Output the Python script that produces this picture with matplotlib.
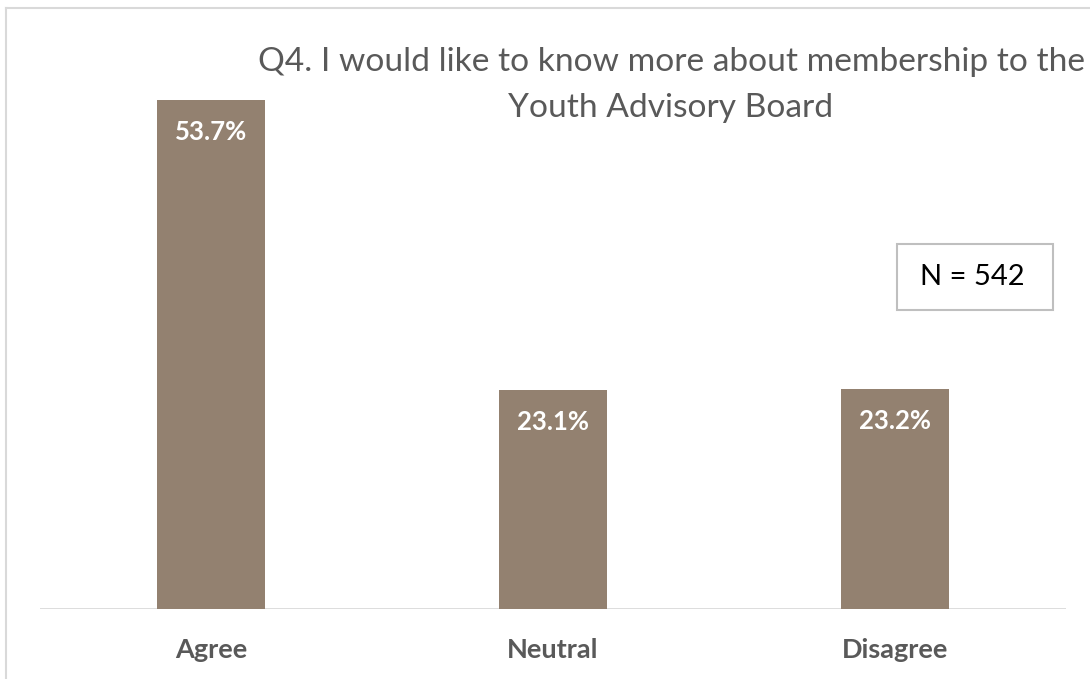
import matplotlib.pyplot as plt
from matplotlib.lines import Line2D
from matplotlib.patches import Rectangle

categories = ["Agree", "Neutral", "Disagree"]
percentages = [53.7, 23.1, 23.2]
title_lines = ["Q4. I would like to know more about membership to the", "Youth Advisory Board"]
sample_note = "N = 542"

W, H = 1090, 679
fig = plt.figure(figsize=(W / 100, H / 100), dpi=100)
fig.patch.set_facecolor("white")

def fx(px):
    return px / W

def fy(py):
    return 1 - py / H

# chart frame (left and top edges visible)
fig.add_artist(Line2D([fx(6), fx(6)], [fy(8), 0], transform=fig.transFigure, color="#d9d9d9", lw=1.5))
fig.add_artist(Line2D([fx(6), 1], [fy(8), fy(8)], transform=fig.transFigure, color="#d9d9d9", lw=1.5))

# fragment of the caption line above the frame
fig.text(fx(38), fy(-12), "g", family="Liberation Serif", fontsize=20, color="black", va="baseline")

# plot area
ax_left, ax_right, ax_base, ax_top = 40, 1066, 609, 30
ax = fig.add_axes([fx(ax_left), fy(ax_base), fx(ax_right - ax_left), (ax_base - ax_top) / H])
px_per_pct = (609 - 100) / 53.7
ax.set_ylim(0, (ax_base - ax_top) / px_per_pct)
ax.set_xlim(-0.5, 2.5)
ax.axis("off")

x = range(len(categories))
bars = ax.bar(x, percentages, width=0.313, color="#938170")
ax.axhline(0, color="#d9d9d9", lw=2, zorder=0)

for xi, v in zip(x, percentages):
    ax.annotate(f"{v:.1f}%", (xi, v), xytext=(0, -32), textcoords="offset pixels",
                ha="center", va="center", color="white", fontsize=18.5, fontweight="bold",
                family="Lato")

for xi, c in zip(x, categories):
    ax.annotate(c, (xi, 0), xytext=(0, -41), textcoords="offset pixels",
                ha="center", va="center", color="#595959", fontsize=19.5, fontweight="bold",
                family="Lato", annotation_clip=False)

fig.text(fx(671), fy(62), title_lines[0], ha="center", va="center", fontsize=24.1,
         color="#595959", family="Lato")
fig.text(fx(671), fy(108), title_lines[1], ha="center", va="center", fontsize=24.1,
         color="#595959", family="Lato")

# sample size box
fig.add_artist(Rectangle((fx(897), fy(310)), fx(1053 - 897), (310 - 244) / H,
                         transform=fig.transFigure, facecolor="white", edgecolor="#bfbfbf", lw=1.5))
fig.text(fx(972), fy(277), sample_note, ha="center", va="center", fontsize=21,
         color="black", family="Lato")

fig.savefig("out.png", dpi=100, facecolor="white")
